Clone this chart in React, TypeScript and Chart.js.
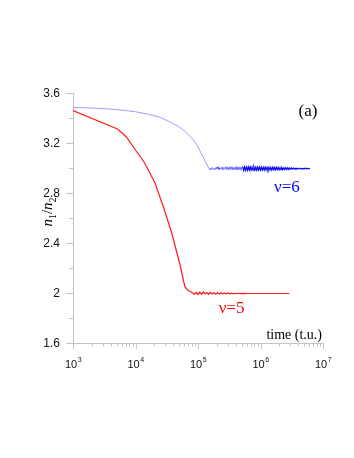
import { useEffect, useRef } from 'react';
import { Chart, registerables } from 'chart.js';

Chart.register(...registerables);

// ---- data (time in t.u., ratio n1/n2) ----
const redTime = [
  1000, 5250, 7100, 9500, 14000, 20500, 27900, 38000, 51300, 61700, 70000, 76000,
  82000, 88000, 94000, 100000, 107000, 114000, 122000, 130000, 139000, 148000,
  158000, 169000, 180000, 192000, 205000, 219000, 234000, 250000, 267000, 285000,
  304000, 325000, 347000, 370000, 395000, 422000, 450000, 480000, 512000, 547000,
  584000, 623000, 700000, 1000000, 2000000, 2900000,
];
const redRatio = [
  3.46, 3.31, 3.25, 3.16, 3.04, 2.88, 2.69, 2.48, 2.23, 2.05, 2.018, 2.012,
  2.0, 1.99, 2.004, 1.988, 2.006, 1.99, 2.008, 1.992, 2.004, 1.99,
  2.006, 1.992, 2.003, 1.99, 2.004, 1.992, 2.002, 1.993, 2.001, 1.993,
  2.0, 1.994, 1.999, 1.994, 1.998, 1.995, 1.998, 1.995, 1.997, 1.995,
  1.997, 1.996, 1.996, 1.996, 1.996, 1.996,
];

const blueTime = [
  1000, 3200, 6300, 10000, 16000, 25000, 35000, 50000, 63000, 79000, 95000,
  112000, 132000, 148000,
  155000, 160000, 164000, 170000, 176000, 181000, 188000, 195000, 201000, 209000,
  216000, 224000, 232000, 241000, 250000, 259000, 268000, 279000, 289000, 300000,
  312000, 324000, 336000, 349000, 362000, 376000, 391000, 406000, 421000, 437000,
  454000, 471000, 489000, 507000,
  520000, 538000, 557000, 576000, 596000, 617000, 639000, 661000, 684000, 708000,
  733000, 759000, 785000, 813000, 841000, 870000, 901000, 932000, 965000, 999000,
  1034000, 1070000, 1107000, 1146000, 1186000, 1228000, 1271000, 1315000, 1361000,
  1409000, 1458000, 1509000, 1562000, 1617000, 1673000, 1732000, 1793000, 1855000,
  1920000, 1987000, 2057000, 2129000, 2203000, 2281000, 2360000, 2443000, 2529000,
  2617000, 2709000, 2803000, 2901000, 3003000, 3108000, 3217000, 3329000, 3446000,
  3566000, 3691000, 3820000, 3954000, 4200000, 4600000, 5200000, 6200000,
];
const blueRatio = [
  3.485, 3.475, 3.462, 3.45, 3.43, 3.405, 3.37, 3.33, 3.29, 3.24, 3.19,
  3.12, 3.05, 3.0,
  2.984, 2.998, 2.99, 3.004, 2.988, 2.996, 2.986, 3.006, 2.992, 3.01,
  2.986, 3.0, 2.99, 3.01, 2.985, 3.004, 2.99, 3.012, 2.986, 3.008,
  2.984, 3.01, 2.988, 3.011, 2.984, 3.006, 2.987, 3.011, 2.983, 3.009,
  2.986, 3.01, 2.982, 3.009,
  3.008, 2.982, 3.009, 2.983, 3.007, 2.982, 3.008, 2.984, 3.008, 2.983,
  3.007, 2.983, 3.007, 2.984, 3.006, 2.983, 3.007, 2.984, 3.006, 2.984,
  3.006, 2.985, 3.005, 2.984, 3.006, 2.985, 3.005, 2.985, 3.005,
  2.986, 3.004, 2.985, 3.005, 2.986, 3.004, 2.986, 3.004, 2.987,
  3.003, 2.987, 3.003, 2.988, 3.002, 2.988, 3.002, 2.989, 3.002,
  2.989, 3.001, 2.99, 3.001, 2.991, 3.0, 2.991, 2.999, 2.992,
  2.998, 2.992, 2.998, 2.993, 2.997, 2.994, 2.996, 2.995,
];

const xDecadeExponents = [3, 4, 5, 6, 7];
const xMinorMultipliers = [2, 3, 4, 5, 6, 7, 8, 9];
const yMajorValues = [1.6, 2.0, 2.4, 2.8, 3.2, 3.6];
const yMajorLabels = ['1.6', '2', '2.4', '2.8', '3.2', '3.6'];
const yMinorValues = [1.8, 2.2, 2.6, 3.0, 3.4];

const AXIS_COLOR = '#c4c4c4';
const SANS = '"Liberation Sans", Arial, sans-serif';
const SERIF = '"Liberation Serif", "Times New Roman", serif';

const decorPlugin = {
  id: 'decor',
  afterDraw(chart: any) {
    const ctx: CanvasRenderingContext2D = chart.ctx;
    const xs = chart.scales.x;
    const ys = chart.scales.y;
    const area = chart.chartArea;
    ctx.save();
    ctx.strokeStyle = AXIS_COLOR;
    ctx.lineWidth = 1;
    // y ticks
    const yTick = (v: number, len: number) => {
      const py = Math.round(ys.getPixelForValue(v)) + 0.5;
      ctx.beginPath();
      ctx.moveTo(area.left - len, py);
      ctx.lineTo(area.left, py);
      ctx.stroke();
    };
    yMajorValues.forEach((v) => yTick(v, 7));
    yMinorValues.forEach((v) => yTick(v, 4));
    // x ticks
    const xTick = (v: number, len: number) => {
      const px = Math.round(xs.getPixelForValue(v)) + 0.5;
      ctx.beginPath();
      ctx.moveTo(px, area.bottom);
      ctx.lineTo(px, area.bottom + len);
      ctx.stroke();
    };
    xDecadeExponents.forEach((e, i) => {
      xTick(Math.pow(10, e), 6);
      if (i < xDecadeExponents.length - 1) {
        xMinorMultipliers.forEach((m) => xTick(m * Math.pow(10, e), 3.5));
      }
    });

    // y tick labels
    ctx.fillStyle = '#111';
    ctx.font = `12px ${SANS}`;
    ctx.textAlign = 'right';
    ctx.textBaseline = 'middle';
    yMajorValues.forEach((v, i) => {
      ctx.fillText(yMajorLabels[i], area.left - 13, ys.getPixelForValue(v) + 0.5);
    });

    // x tick labels 10^n
    ctx.textAlign = 'left';
    ctx.textBaseline = 'alphabetic';
    xDecadeExponents.forEach((e) => {
      const px = xs.getPixelForValue(Math.pow(10, e));
      ctx.font = `11px ${SANS}`;
      const w1 = ctx.measureText('10').width;
      ctx.font = `7px ${SANS}`;
      const w2 = ctx.measureText(String(e)).width;
      const start = px - (w1 + w2) / 2;
      ctx.font = `11px ${SANS}`;
      ctx.fillText('10', start, area.bottom + 25);
      ctx.font = `7px ${SANS}`;
      ctx.fillText(String(e), start + w1 + 0.5, area.bottom + 19);
    });

    // x axis title
    ctx.fillStyle = '#000';
    ctx.font = `14px ${SERIF}`;
    ctx.textAlign = 'right';
    ctx.fillText('time (t.u.)', area.right - 1, area.bottom - 4);

    // y axis title n1/n2 rotated
    const parts = [
      { t: 'n', f: `italic 15px ${SERIF}`, dy: 0 },
      { t: '1', f: `10px ${SERIF}`, dy: 4 },
      { t: '/', f: `15px ${SERIF}`, dy: 0 },
      { t: 'n', f: `italic 15px ${SERIF}`, dy: 0 },
      { t: '2', f: `10px ${SERIF}`, dy: 4 },
    ];
    let total = 0;
    const widths = parts.map((p) => {
      ctx.font = p.f;
      const w = ctx.measureText(p.t).width;
      total += w;
      return w;
    });
    ctx.save();
    ctx.translate(area.left - 21, (area.top + area.bottom) / 2 - 6);
    ctx.rotate(-Math.PI / 2);
    ctx.textAlign = 'left';
    ctx.textBaseline = 'alphabetic';
    let cx = -total / 2;
    parts.forEach((p, i) => {
      ctx.font = p.f;
      ctx.fillText(p.t, cx, p.dy);
      cx += widths[i];
    });
    ctx.restore();

    // annotations
    ctx.textAlign = 'center';
    ctx.textBaseline = 'middle';
    ctx.font = `17px ${SERIF}`;
    ctx.fillStyle = '#000';
    ctx.fillText('(a)', xs.getPixelForValue(5.75e6), ys.getPixelForValue(3.448));
    ctx.fillStyle = '#0000ff';
    ctx.fillText('\u03bd=6', xs.getPixelForValue(2.65e6), ys.getPixelForValue(2.84));
    ctx.fillStyle = '#ff0000';
    ctx.fillText('\u03bd=5', xs.getPixelForValue(3.44e5), ys.getPixelForValue(1.872));
    ctx.restore();
  },
};

export default function App() {
  const ref = useRef<HTMLCanvasElement | null>(null);
  useEffect(() => {
    if (!ref.current) return;
    const chart = new Chart(ref.current, {
      type: 'line',
      data: {
        datasets: [
          {
            label: 'nu=6',
            data: blueTime.map((t, i) => ({ x: t, y: blueRatio[i] })),
            borderColor: '#9a9aff',
            borderWidth: 1,
            pointRadius: 0,
            tension: 0,
            segment: {
              borderColor: (c: any) =>
                c.p0.parsed.x >= 500000 ? '#1010f0' : c.p0.parsed.x >= 150000 ? '#6a6aff' : '#9a9aff',
              borderWidth: (c: any) => (c.p0.parsed.x >= 500000 ? 1.3 : 1),
            },
          },
          {
            label: 'nu=5',
            data: redTime.map((t, i) => ({ x: t, y: redRatio[i] })),
            borderColor: '#ff1a1a',
            borderWidth: 1.2,
            pointRadius: 0,
            tension: 0,
          },
        ],
      },
      options: {
        animation: false,
        responsive: false,
        maintainAspectRatio: false,
        devicePixelRatio: 1,
        layout: { padding: { left: 0, top: 93, right: 31, bottom: 0 } },
        plugins: { legend: { display: false }, tooltip: { enabled: false } },
        scales: {
          x: {
            type: 'logarithmic',
            min: 1000,
            max: 1e7,
            grid: { display: false },
            border: { display: true, color: AXIS_COLOR, width: 1 },
            ticks: { display: false },
            afterFit: (s: any) => {
              s.height = 115;
            },
          },
          y: {
            type: 'linear',
            min: 1.6,
            max: 3.6,
            grid: { display: false },
            border: { display: true, color: AXIS_COLOR, width: 1 },
            ticks: { display: false },
            afterFit: (s: any) => {
              s.width = 73;
            },
          },
        },
      },
      plugins: [decorPlugin],
    } as any);
    return () => chart.destroy();
  }, []);
  return (
    <div style={{ position: 'fixed', left: 0, top: 0, width: 354, height: 458, background: '#fff' }}>
      <canvas ref={ref} width={354} height={458} style={{ width: 354, height: 458 }} />
    </div>
  );
}
